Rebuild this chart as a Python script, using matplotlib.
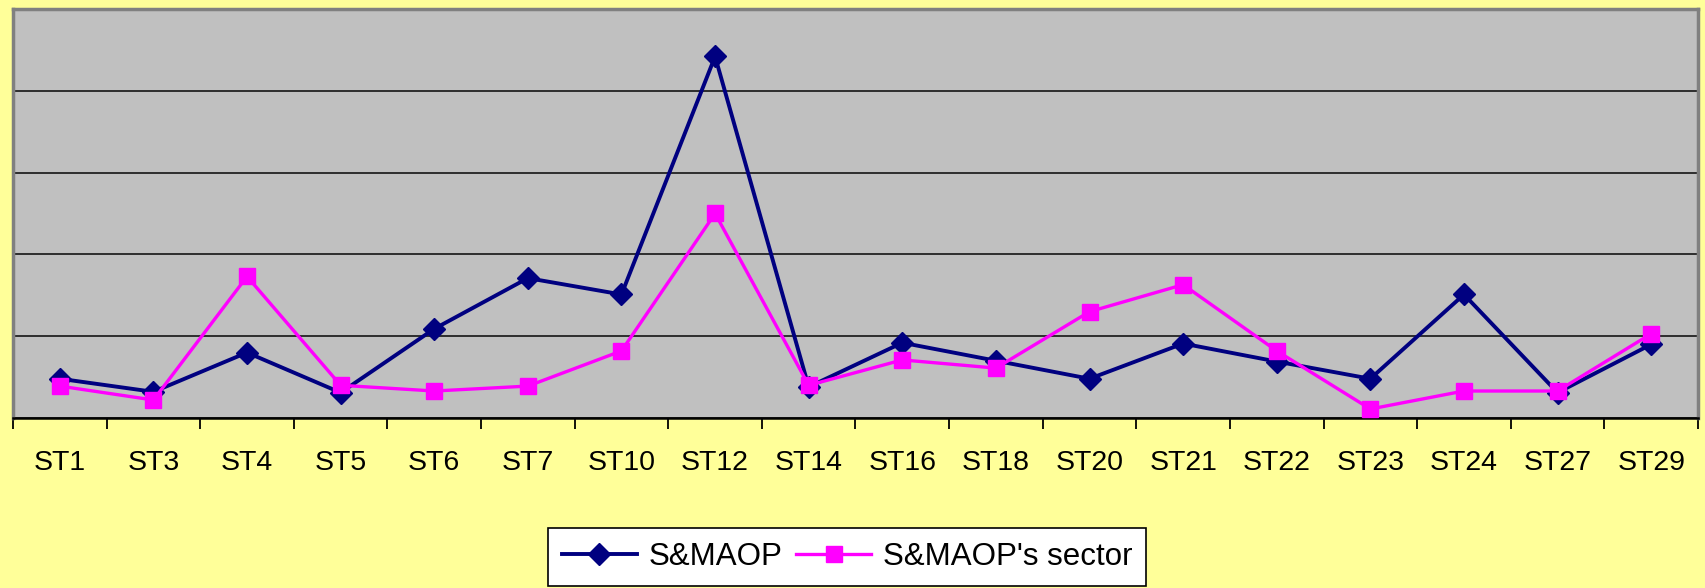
import matplotlib
matplotlib.use("Agg")
import matplotlib.pyplot as plt
from matplotlib.ticker import FixedLocator

categories = ["ST1", "ST3", "ST4", "ST5", "ST6", "ST7", "ST10", "ST12", "ST14",
              "ST16", "ST18", "ST20", "ST21", "ST22", "ST23", "ST24", "ST27", "ST29"]
smaop = [0.48, 0.32, 0.80, 0.31, 1.09, 1.71, 1.51, 4.42, 0.38,
         0.92, 0.70, 0.48, 0.91, 0.69, 0.48, 1.51, 0.31, 0.90]
smaop_sector = [0.39, 0.22, 1.73, 0.40, 0.33, 0.39, 0.82, 2.50, 0.40,
                0.71, 0.61, 1.30, 1.63, 0.82, 0.11, 0.33, 0.33, 1.03]
series_names = ["S&MAOP", "S&MAOP's sector"]

W, H = 1705, 588
fig = plt.figure(figsize=(W / 100, H / 100), dpi=100, facecolor="#FFFF99")
ax = fig.add_axes([13 / W, 1 - 418 / H, (1698 - 13) / W, (418 - 9) / H])
ax.set_facecolor("#C0C0C0")

x = list(range(len(categories)))
ax.plot(x, smaop, color="#000080", lw=2.8, marker="D", ms=11,
        mfc="#000080", mec="#000080", zorder=3, label=series_names[0])
ax.plot(x, smaop_sector, color="#FF00FF", lw=2.4, marker="s", ms=11.5,
        mfc="#FF00FF", mec="#FF00FF", zorder=4, label=series_names[1])

ax.set_xlim(-0.5, len(categories) - 0.5)
ax.set_ylim(0, 5)
ax.set_yticks([0, 1, 2, 3, 4, 5])
ax.yaxis.grid(True, color="#222222", lw=1.3)
ax.set_axisbelow(True)
ax.tick_params(axis="y", left=False, labelleft=False)

ax.set_xticks(x)
ax.set_xticklabels(categories, fontsize=20.5, family="Liberation Sans")
ax.tick_params(axis="x", which="major", length=0, pad=23)
ax.xaxis.set_minor_locator(FixedLocator([i - 0.5 for i in range(len(categories) + 1)]))
ax.tick_params(axis="x", which="minor", length=8, width=1.3, color="#000000", direction="out")

for s in ["top", "right", "left"]:
    ax.spines[s].set_color("#808080")
    ax.spines[s].set_linewidth(2.5)
ax.spines["bottom"].set_color("#000000")
ax.spines["bottom"].set_linewidth(1.8)

leg = fig.legend(loc="center", bbox_to_anchor=(847 / W, 1 - 557 / H),
                 ncol=2, frameon=True, fancybox=False,
                 prop={"family": "Liberation Sans", "size": 22.5},
                 handlelength=2.4, handletextpad=0.36, columnspacing=0.46,
                 borderpad=0.45, borderaxespad=0)
leg.get_frame().set_edgecolor("#000000")
leg.get_frame().set_linewidth(1.2)
leg.get_frame().set_facecolor("#FFFFFF")
leg.get_frame().set_alpha(1)

fig.savefig("out.png", dpi=100, facecolor=fig.get_facecolor())
